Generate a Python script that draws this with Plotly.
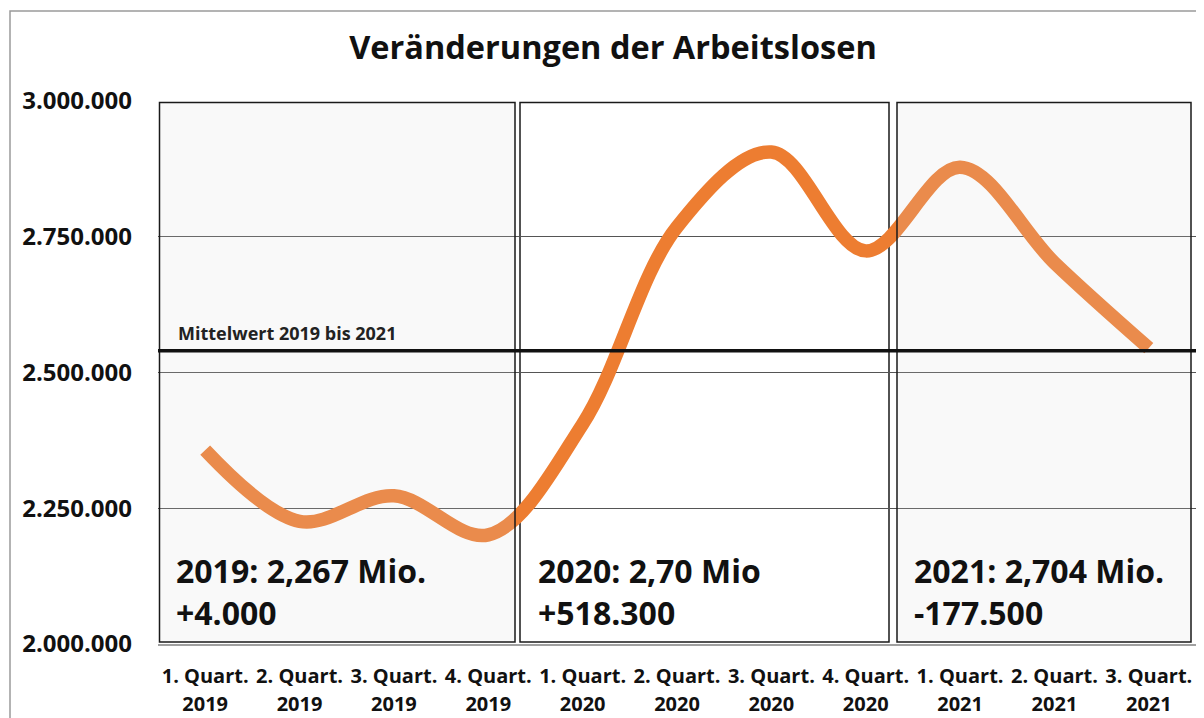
import plotly.graph_objects as go

quarters = ["1. Quart.", "2. Quart.", "3. Quart.", "4. Quart.",
            "1. Quart.", "2. Quart.", "3. Quart.", "4. Quart.",
            "1. Quart.", "2. Quart.", "3. Quart."]
years = ["2019", "2019", "2019", "2019", "2020", "2020", "2020", "2020",
         "2021", "2021", "2021"]
arbeitslose = [2357000, 2226000, 2273000, 2201000, 2405000, 2768000,
               2906000, 2724000, 2878000, 2702000, 2545000]
mittelwert = 2540000
mittelwert_label = "Mittelwert 2019 bis 2021"
box_texts = ["2019: 2,267 Mio.<br>+4.000",
             "2020: 2,70 Mio<br>+518.300",
             "2021: 2,704 Mio.<br>-177.500"]
title = "Veränderungen der Arbeitslosen"
y_ticks = [2000000, 2250000, 2500000, 2750000, 3000000]

idx = list(range(len(quarters)))
FONT = "Open Sans"

fig = go.Figure()
fig.add_trace(go.Scatter(
    x=idx, y=arbeitslose, mode="lines",
    line=dict(color="#ED7D31", width=13.5, shape="spline", smoothing=1.0),
    hoverinfo="skip", showlegend=False))
# invisible trace to carry the year axis
fig.add_trace(go.Scatter(x=idx, y=arbeitslose, xaxis="x2", mode="lines",
                         line=dict(width=0), opacity=0, hoverinfo="skip",
                         showlegend=False))

# page has an 8px body margin -> figure origin sits at (8, 8) on screen
OFF = 8
W, H = 1196, 710
L, T = 158 - OFF, 101 - OFF
R = W - L - 1038
B = H - (644 - OFF)
pw = W - L - R
ph = H - T - B

def px(xs):  # screen x -> paper
    return (xs - OFF - L) / pw

def py(ys):  # screen y -> paper
    return (H - B - (ys - OFF)) / ph

shapes = []
# outer frame
shapes.append(dict(type="rect", xref="paper", yref="paper",
                   x0=px(10), x1=px(1215), y0=py(740), y1=py(11),
                   line=dict(color="#9a9a9a", width=1.5), fillcolor="rgba(0,0,0,0)",
                   layer="below"))
# boxes
boxes = [(159.5, 515), (520, 889), (897, 1191)]
for i, (a, b) in enumerate(boxes):
    shapes.append(dict(type="rect", xref="paper", yref="paper",
                       x0=px(a), x1=px(b), y0=py(642), y1=py(102.5),
                       line=dict(color="#1a1a1a", width=1.5),
                       fillcolor="rgba(215,215,215,0.16)" if i != 1 else "rgba(0,0,0,0)",
                       layer="above" if i != 1 else "below"))
# mean line
shapes.append(dict(type="line", xref="paper", yref="y", x0=0, x1=1,
                   y0=mittelwert, y1=mittelwert,
                   line=dict(color="#111111", width=3.5), layer="above"))

annotations = [dict(xref="paper", yref="paper", x=px(176), y=py(333),
                    xanchor="left", yanchor="middle", showarrow=False,
                    text=mittelwert_label,
                    font=dict(family=FONT, size=18, color="#222", weight="bold"))]
for xl, t in zip([174, 536, 912], box_texts):
    annotations.append(dict(xref="paper", yref="paper", x=px(xl), y=py(591),
                            xanchor="left", yanchor="middle", showarrow=False,
                            align="left", text=t,
                            font=dict(family=FONT, size=32, color="#111", weight="bold")))

fig.update_layout(
    width=W, height=H,
    margin=dict(l=L, r=R, t=T, b=B, autoexpand=False),
    paper_bgcolor="white", plot_bgcolor="white",
    separators=",.",
    title=dict(text=title, xref="container", x=(613 - OFF) / W, xanchor="center",
               yref="container", y=1 - (48 - OFF) / H, yanchor="middle",
               font=dict(family=FONT, size=32.5, color="#111", weight="bold")),
    xaxis=dict(range=[-0.5, len(idx) - 0.5], tickvals=idx, ticktext=quarters,
               showgrid=False, zeroline=False, showline=True,
               linecolor="#a0a0a0", linewidth=2, ticks="",
               ticklabelstandoff=13,
               tickfont=dict(family=FONT, size=20, color="#111", weight="bold")),
    xaxis2=dict(matches="x", overlaying="x", side="bottom", anchor="y",
                tickvals=idx, ticktext=years, showgrid=False, zeroline=False,
                showline=False, ticks="", ticklabelstandoff=46,
                tickfont=dict(family=FONT, size=20, color="#111", weight="bold")),
    yaxis=dict(range=[2000000, 3000000], tickvals=y_ticks, tickformat=",d",
               showgrid=True, gridcolor="#555555", gridwidth=1,
               zeroline=False, showline=False, ticks="",
               ticklabelstandoff=25,
               tickfont=dict(family=FONT, size=24, color="#111", weight="bold")),
    shapes=shapes, annotations=annotations,
)

fig.write_html("out.html")
